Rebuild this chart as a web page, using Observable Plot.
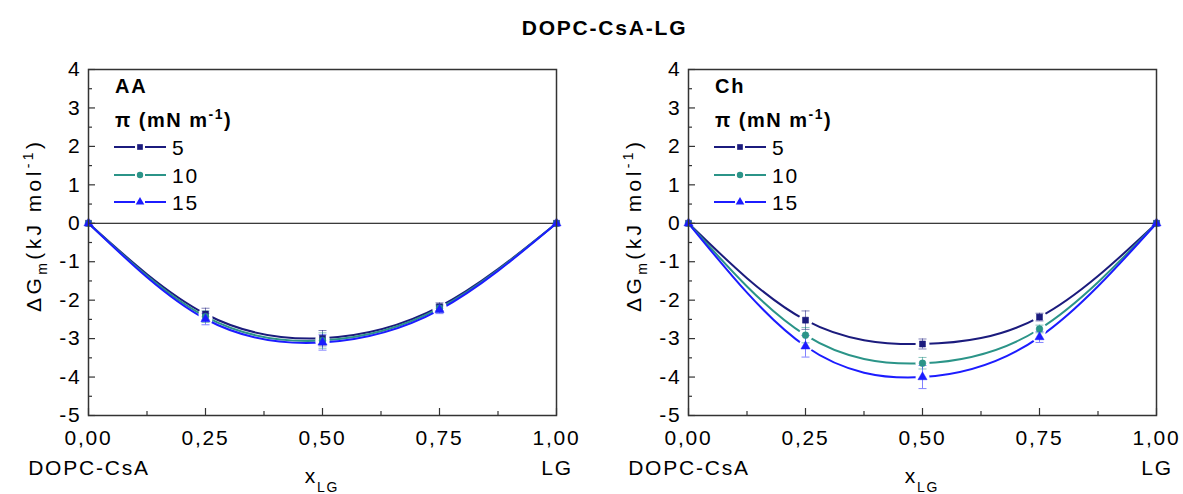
<!DOCTYPE html>
<html><head><meta charset="utf-8">
<script src="https://cdn.jsdelivr.net/npm/d3@7"></script>
<script src="https://cdn.jsdelivr.net/npm/@observablehq/plot@0.6"></script>
<style>
body{margin:0;background:#fff;font-family:"Liberation Sans",Arial,sans-serif;}
#title{height:50px;box-sizing:border-box;padding-top:16px;line-height:24px;font-weight:bold;font-size:21px;letter-spacing:1.8px;text-align:center;padding-left:26px;color:#000;}
#row{display:flex;}
</style></head><body>
<div id="title">DOPC-CsA-LG</div>
<div id="row"></div>
<script>
// ---- data ----
const xValues = [0, 0.25, 0.5, 0.75, 1];
const pressures = ["5", "10", "15"];
const colors = ["#1b1b7d", "#2b9488", "#1c1cff"];
const symbols = ["square", "circle", "triangle"];

// AA panel
const aa5  = [0, -2.36, -2.99, -2.17, 0];
const aa10 = [0, -2.43, -3.05, -2.21, 0];
const aa15 = [0, -2.49, -3.10, -2.25, 0];
const aa5Err  = [0, 0.15, 0.20, 0.10, 0];
const aa10Err = [0, 0.15, 0.20, 0.10, 0];
const aa15Err = [0, 0.15, 0.20, 0.10, 0];

// Ch panel
const ch5  = [0, -2.52, -3.14, -2.44, 0];
const ch10 = [0, -2.91, -3.64, -2.75, 0];
const ch15 = [0, -3.20, -4.00, -2.96, 0];
const ch5Err  = [0, 0.24, 0.13, 0.10, 0];
const ch10Err = [0, 0.20, 0.15, 0.10, 0];
const ch15Err = [0, 0.28, 0.30, 0.14, 0];

const yMajor = [4, 3, 2, 1, 0, -1, -2, -3, -4, -5];
const yMinor = [3.5, 2.5, 1.5, 0.5, -0.5, -1.5, -2.5, -3.5, -4.5];
const xMajor = [0, 0.25, 0.5, 0.75, 1];
const xMinor = [0.125, 0.375, 0.625, 0.875];
const xTickLabels = ["0,00", "0,25", "0,50", "0,75", "1,00"];

const panels = [
  {name: "AA", series: [aa5, aa10, aa15], errs: [aa5Err, aa10Err, aa15Err], width: 591, marginLeft: 88, marginRight: 35},
  {name: "Ch", series: [ch5, ch10, ch15], errs: [ch5Err, ch10Err, ch15Err], width: 592, marginLeft: 97, marginRight: 27}
];

const cap = {draw(ctx, size) { const w = Math.sqrt(size / Math.PI); ctx.moveTo(-w, 0); ctx.lineTo(w, 0); }};
const H = 444, MT = 19, MB = 79;

for (const P of panels) {
  const rows = P.series.flatMap((ys, k) => xValues.map((x, i) => ({x, y: ys[i], e: P.errs[k][i], p: pressures[k]})));
  const inner = rows.filter(d => d.x > 0 && d.x < 1);
  const errRows = rows.filter(d => d.e > 0);
  const chart = Plot.plot({
    width: P.width, height: H,
    marginLeft: P.marginLeft, marginRight: P.marginRight, marginTop: MT, marginBottom: MB,
    x: {domain: [0, 1], axis: null},
    y: {domain: [-5, 4], axis: null},
    color: {domain: pressures, range: colors},
    symbol: {domain: pressures, range: symbols},
    style: {fontFamily: "'Liberation Sans', Arial, sans-serif", fontSize: "21px", color: "#000", background: "#fff", overflow: "visible", letterSpacing: "1.8px"},
    marks: [
      Plot.ruleY([0], {stroke: "#000", strokeWidth: 1}),
      Plot.line(rows, {x: "x", y: "y", z: "p", stroke: "p", curve: "natural", strokeWidth: 2}),
      Plot.dot(inner, {x: "x", y: "y", r: 7, fill: "#fff", stroke: null}),
      Plot.ruleX(errRows, {x: "x", y1: d => d.y - d.e, y2: d => d.y + d.e, stroke: "p", strokeOpacity: 0.55, strokeWidth: 1}),
      Plot.dot(errRows, {x: "x", y: d => d.y + d.e, symbol: cap, r: 4, stroke: "p", strokeOpacity: 0.55, strokeWidth: 1, fill: "none"}),
      Plot.dot(errRows, {x: "x", y: d => d.y - d.e, symbol: cap, r: 4, stroke: "p", strokeOpacity: 0.55, strokeWidth: 1, fill: "none"}),
      Plot.dot(rows, {x: "x", y: "y", symbol: "p", fill: "p", stroke: "p", strokeWidth: 0.5, r: 3.4}),
      Plot.frame({stroke: "#333", strokeWidth: 1.5}),
      Plot.axisY(yMajor, {anchor: "left", tickSize: -7, tickFormat: () => "", label: null, stroke: "#333", strokeWidth: 1.2}),
      Plot.axisY(yMinor, {anchor: "left", tickSize: -4, tickFormat: () => "", label: null, stroke: "#333", strokeWidth: 1.2}),
      Plot.axisX(xMajor, {anchor: "bottom", tickSize: -7, tickFormat: () => "", label: null, stroke: "#333", strokeWidth: 1.2}),
      Plot.axisX(xMinor, {anchor: "bottom", tickSize: -4, tickFormat: () => "", label: null, stroke: "#333", strokeWidth: 1.2}),
      Plot.axisY(yMajor, {anchor: "left", tickSize: 0, tickPadding: 7, tickFormat: d => String(d), label: null, fill: "#000"}),
      Plot.axisX(xMajor, {anchor: "bottom", tickSize: 0, tickPadding: 15, tickFormat: (d, i) => xTickLabels[i], label: null, fill: "#000"})
    ]
  });
  const svg = d3.select(chart);
  const fl = P.marginLeft, fr = P.width - P.marginRight;
  const g = svg.append("g").attr("fill", "#000").attr("text-anchor", "start");
  // y label
  const yl = g.append("text").attr("transform", `translate(${fl - 47},262) rotate(-90)`).attr("text-anchor", "start").attr("font-size", 21).style("letter-spacing", "3.4px");
  yl.append("tspan").text("ΔG");
  yl.append("tspan").attr("font-size", 14).attr("dy", 6).text("m");
  yl.append("tspan").attr("dy", -6).text("(kJ mol");
  yl.append("tspan").attr("font-size", 14).attr("dy", -8).text("-1");
  yl.append("tspan").attr("dy", 8).text(")");
  // x label
  const xl = g.append("text").attr("x", (fl + fr) / 2).attr("y", 433).attr("text-anchor", "middle").attr("font-size", 21);
  xl.append("tspan").text("x");
  xl.append("tspan").attr("font-size", 14).attr("dy", 9).text("LG");
  g.append("text").attr("x", fl + 1).attr("y", 425).attr("text-anchor", "middle").attr("font-size", 21).text("DOPC-CsA");
  g.append("text").attr("x", fr + 1).attr("y", 425).attr("text-anchor", "middle").attr("font-size", 21).text("LG");
  // in-panel legend
  const lx = fl + 27;
  g.append("text").attr("x", lx).attr("y", 43).attr("text-anchor", "start").attr("font-weight", "bold").attr("font-size", 20).text(P.name);
  const pt = g.append("text").attr("x", lx).attr("y", 77).attr("text-anchor", "start").attr("font-weight", "bold").attr("font-size", 20).style("letter-spacing", "1.5px");
  pt.append("tspan").text("π (mN m");
  pt.append("tspan").attr("font-size", 14).attr("dy", -8).text("-1");
  pt.append("tspan").attr("dy", 8).text(")");
  const legY = [97, 125, 152];
  pressures.forEach((p, k) => {
    const cy = legY[k];
    g.append("line").attr("x1", lx - 1).attr("x2", lx + 20).attr("y1", cy).attr("y2", cy).attr("stroke", colors[k]).attr("stroke-width", 2);
    g.append("line").attr("x1", lx + 30).attr("x2", lx + 51).attr("y1", cy).attr("y2", cy).attr("stroke", colors[k]).attr("stroke-width", 2);
    const type = [d3.symbolSquare, d3.symbolCircle, d3.symbolTriangle][k];
    g.append("path").attr("d", d3.symbol(type, 3.2 * 3.2 * Math.PI)()).attr("transform", `translate(${lx + 25},${cy})`).attr("fill", colors[k]);
    g.append("text").attr("x", lx + 57).attr("y", cy + 8).attr("text-anchor", "start").attr("font-size", 21).text(p);
  });
  document.getElementById("row").appendChild(chart);
}
</script>
</body></html>
